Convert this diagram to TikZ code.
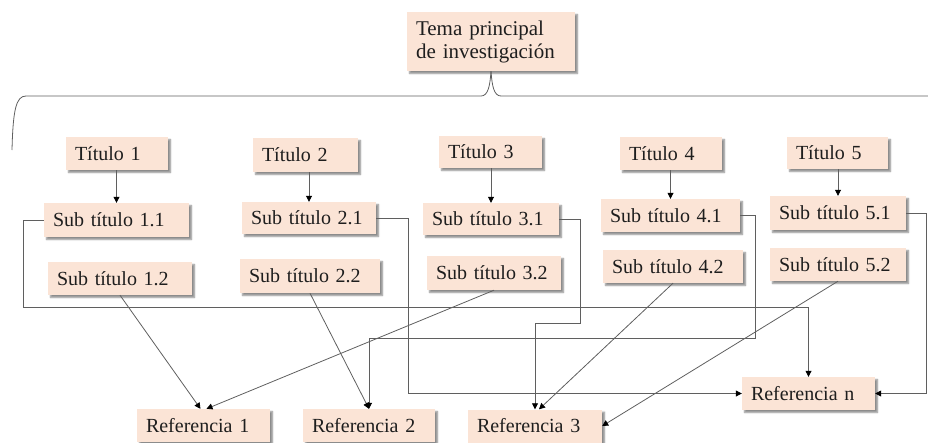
\documentclass[tikz,border=0pt]{standalone}
\usepackage{fontspec}
\setmainfont{Liberation Serif}
\usetikzlibrary{arrows.meta,shadows.blur}
\definecolor{peach}{RGB}{251,228,214}
\definecolor{wire}{RGB}{95,95,95}
\definecolor{ink}{RGB}{30,30,30}
\begin{document}
\begin{tikzpicture}[x=1pt,y=-1pt,
  card/.style 2 args={fill=peach, text=ink, font=\fontsize{20}{22}\selectfont,
    inner xsep=9pt, inner ysep=0pt, text width=#1, minimum height=#2, align=left,
    blur shadow={shadow xshift=2.5pt, shadow yshift=-2.5pt, shadow blur steps=4,
      shadow opacity=45, shadow blur radius=1.5pt}},
  link/.style={draw=wire, line width=0.8pt},
  arr/.style={link, -{Triangle[length=6pt,width=6pt,color=black]}},
]
\useasboundingbox (0,0) rectangle (928,442);

% main topic
\node[card={150pt}{59pt}, font=\fontsize{21}{23}\selectfont] (tema) at (491,41.5)
  {Tema principal\\de investigación};

% titles
\node[card={84pt}{33pt}] (t1) at (117,153.5) {Título 1};
\node[card={87pt}{34pt}] (t2) at (305.5,155) {Título 2};
\node[card={85pt}{32pt}] (t3) at (490.5,152) {Título 3};
\node[card={84pt}{33pt}] (t4) at (671,153.5) {Título 4};
\node[card={83pt}{32pt}] (t5) at (837.5,153) {Título 5};

% first subtitles
\node[card={127pt}{34pt}] (s11) at (116.5,220) {Sub título 1.1};
\node[card={116pt}{32pt}] (s21) at (309,218) {Sub título 2.1};
\node[card={118pt}{32pt}] (s31) at (491,219) {Sub título 3.1};
\node[card={121pt}{33pt}] (s41) at (670.5,215.5) {Sub título 4.1};
\node[card={118pt}{34pt}] (s51) at (838,213) {Sub título 5.1};

% second subtitles
\node[card={126pt}{33pt}] (s12) at (120,278.5) {Sub título 1.2};
\node[card={122pt}{34pt}] (s22) at (310,276) {Sub título 2.2};
\node[card={116pt}{34pt}] (s32) at (494,273) {Sub título 3.2};
\node[card={122pt}{33pt}] (s42) at (673,266.5) {Sub título 4.2};
\node[card={118pt}{33pt}] (s52) at (838,264.5) {Sub título 5.2};

% references
\node[card={115pt}{33pt}] (r1) at (203.5,425.5) {Referencia 1};
\node[card={114pt}{33pt}] (r2) at (369,425.5) {Referencia 2};
\node[card={116pt}{33pt}] (r3) at (535,426) {Referencia 3};
\node[card={115pt}{33pt}] (rn) at (808.5,393.5) {Referencia n};

% brace under the main topic
\coordinate (bl) at (12,150);
\coordinate (br) at (928,96);
\draw[link] (tema.south) .. controls (490,86) and (488,96) .. (481,96)
  -- (26,96) .. controls (16,96) and (13,110) .. (bl);
\draw[link] (tema.south) .. controls (492,86) and (494,96) .. (501,96) -- (br);

% title -> first subtitle
\foreach \i in {1,...,5}
  \draw[arr] (s\i1.north |- t\i.south) -- (s\i1.north);

% elbow routes
\coordinate (c1) at (23,307);
\coordinate (c2) at (408,0);
\coordinate (c3) at (580,323);
\coordinate (c4) at (755,338);
\coordinate (c5) at (926,0);
\draw[arr] (s11.west) -| (c1) -| (rn.north);
\draw[arr] (s21.east) -| (c2 |- rn.west) -- (rn.west);
\draw[arr] (s31.east) -| (c3) -| (r3.north);
\draw[arr] (s41.east) -| (c4) -| (r2.north);
\draw[arr] (s51.east) -| (c5 |- rn.east) -- (rn.east);

% diagonal links
\draw[arr] (s12.south) -- ([xshift=-3pt]r1.north);
\draw[arr] (s22.south) -- (r2.north);
\draw[arr] (s32.south) -- ([xshift=3pt]r1.north);
\draw[arr] (s42.south) -- ([xshift=4pt]r3.north);
\draw[arr] (s52.south) -- (r3.east);
\end{tikzpicture}
\end{document}
